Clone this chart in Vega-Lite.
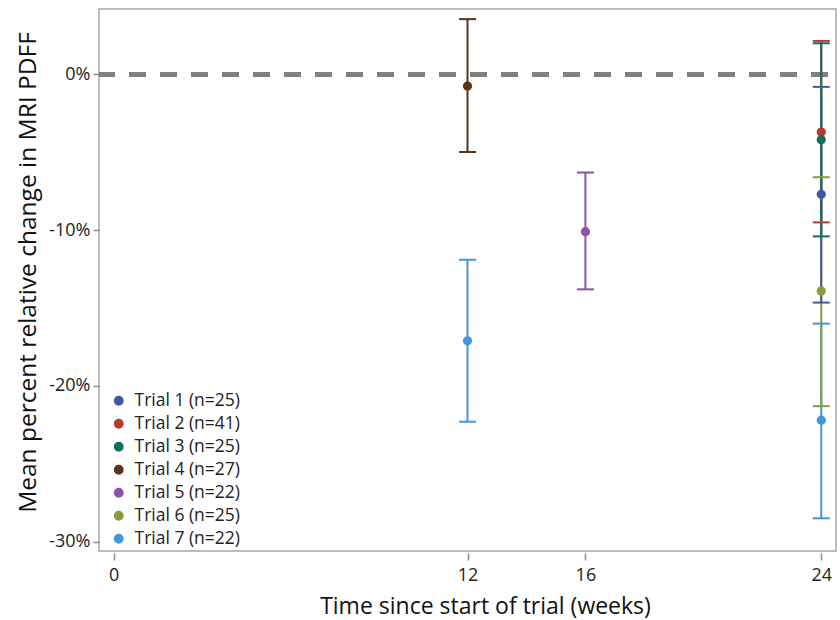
{
  "$schema": "https://vega.github.io/schema/vega-lite/v6.json",
  "width": 737,
  "height": 542,
  "autosize": "none",
  "padding": {"left": 99, "top": 9, "right": 4, "bottom": 69},
  "background": "white",
  "config": {
    "font": "Open Sans",
    "view": {"stroke": "#a6a6a6", "strokeWidth": 1.5},
    "axis": {
      "grid": false,
      "domain": false,
      "tickColor": "#8c8c8c",
      "tickWidth": 1.5,
      "labelColor": "#222222",
      "labelFontSize": 18,
      "titleColor": "#111111",
      "titleFontSize": 23,
      "titleFontWeight": "normal"
    },
    "legend": {
      "labelFontSize": 17.5,
      "labelColor": "#222222"
    }
  },
  "data": {
    "values": [
      {"trial": "Trial 7 (n=22)", "week": 24, "mean": -22.2, "lower": -28.5, "upper": -16.0},
      {"trial": "Trial 6 (n=25)", "week": 24, "mean": -13.9, "lower": -21.3, "upper": -6.6},
      {"trial": "Trial 7 (n=22)", "week": 12, "mean": -17.1, "lower": -22.3, "upper": -11.9},
      {"trial": "Trial 5 (n=22)", "week": 16, "mean": -10.1, "lower": -13.8, "upper": -6.3},
      {"trial": "Trial 4 (n=27)", "week": 12, "mean": -0.75, "lower": -4.98, "upper": 3.55},
      {"trial": "Trial 2 (n=41)", "week": 24, "mean": -3.7, "lower": -9.5, "upper": 2.15},
      {"trial": "Trial 1 (n=25)", "week": 24, "mean": -7.7, "lower": -14.65, "upper": -0.8},
      {"trial": "Trial 3 (n=25)", "week": 24, "mean": -4.2, "lower": -10.4, "upper": 2.0}
    ]
  },
  "layer": [
    {
      "mark": {"type": "rule", "color": "#808080", "strokeWidth": 4, "strokeDash": [17, 14], "strokeDashOffset": 23},
      "encoding": {
        "y": {"datum": 0, "type": "quantitative", "scale": {"domain": [-30.6, 4.2], "nice": false, "zero": false},
              "axis": {"values": [0, -10, -20, -30], "labelExpr": "datum.value + '%'", "tickSize": 6, "labelPadding": 3, "titlePadding": 8, "titleFontSize": 24.5, "titleY": 263},
              "title": "Mean percent relative change in MRI PDFF"}
      }
    },
    {
      "mark": {"type": "rule", "strokeWidth": 2},
      "encoding": {
        "x": {"field": "week", "type": "quantitative", "scale": {"domain": [-0.5, 24.5], "nice": false, "zero": false},
              "axis": {"values": [0, 12, 16, 24], "tickSize": 7, "offset": 2, "labelPadding": 6, "titlePadding": 11, "titleX": 386},
              "title": "Time since start of trial (weeks)"},
        "y": {"field": "lower", "type": "quantitative", "title": "Mean percent relative change in MRI PDFF"},
        "y2": {"field": "upper"},
        "color": {"field": "trial", "type": "nominal", "title": null,
                  "scale": {"domain": ["Trial 1 (n=25)", "Trial 2 (n=41)", "Trial 3 (n=25)", "Trial 4 (n=27)", "Trial 5 (n=22)", "Trial 6 (n=25)", "Trial 7 (n=22)"],
                            "range": ["#4356a6", "#b83a32", "#0f6e5f", "#5b3418", "#8e50a8", "#8a9b3b", "#4396dc"]}}
      }
    },
    {
      "mark": {"type": "tick", "orient": "horizontal", "size": 17, "thickness": 2, "opacity": 1},
      "encoding": {
        "x": {"field": "week", "type": "quantitative", "title": "Time since start of trial (weeks)"},
        "y": {"field": "lower", "type": "quantitative", "title": "Mean percent relative change in MRI PDFF"},
        "color": {"field": "trial", "type": "nominal", "title": null}
      }
    },
    {
      "mark": {"type": "tick", "orient": "horizontal", "size": 17, "thickness": 2, "opacity": 1},
      "encoding": {
        "x": {"field": "week", "type": "quantitative", "title": "Time since start of trial (weeks)"},
        "y": {"field": "upper", "type": "quantitative", "title": "Mean percent relative change in MRI PDFF"},
        "color": {"field": "trial", "type": "nominal", "title": null}
      }
    },
    {
      "mark": {"type": "point", "filled": true, "size": 85, "opacity": 1, "shape": "circle"},
      "encoding": {
        "x": {"field": "week", "type": "quantitative", "title": "Time since start of trial (weeks)"},
        "y": {"field": "mean", "type": "quantitative", "title": "Mean percent relative change in MRI PDFF"},
        "color": {"field": "trial", "type": "nominal", "title": null,
                  "legend": {"orient": "none", "legendX": 11, "legendY": 383, "symbolType": "circle", "symbolSize": 70, "rowPadding": 4, "labelOffset": 7}}
      }
    }
  ]
}
